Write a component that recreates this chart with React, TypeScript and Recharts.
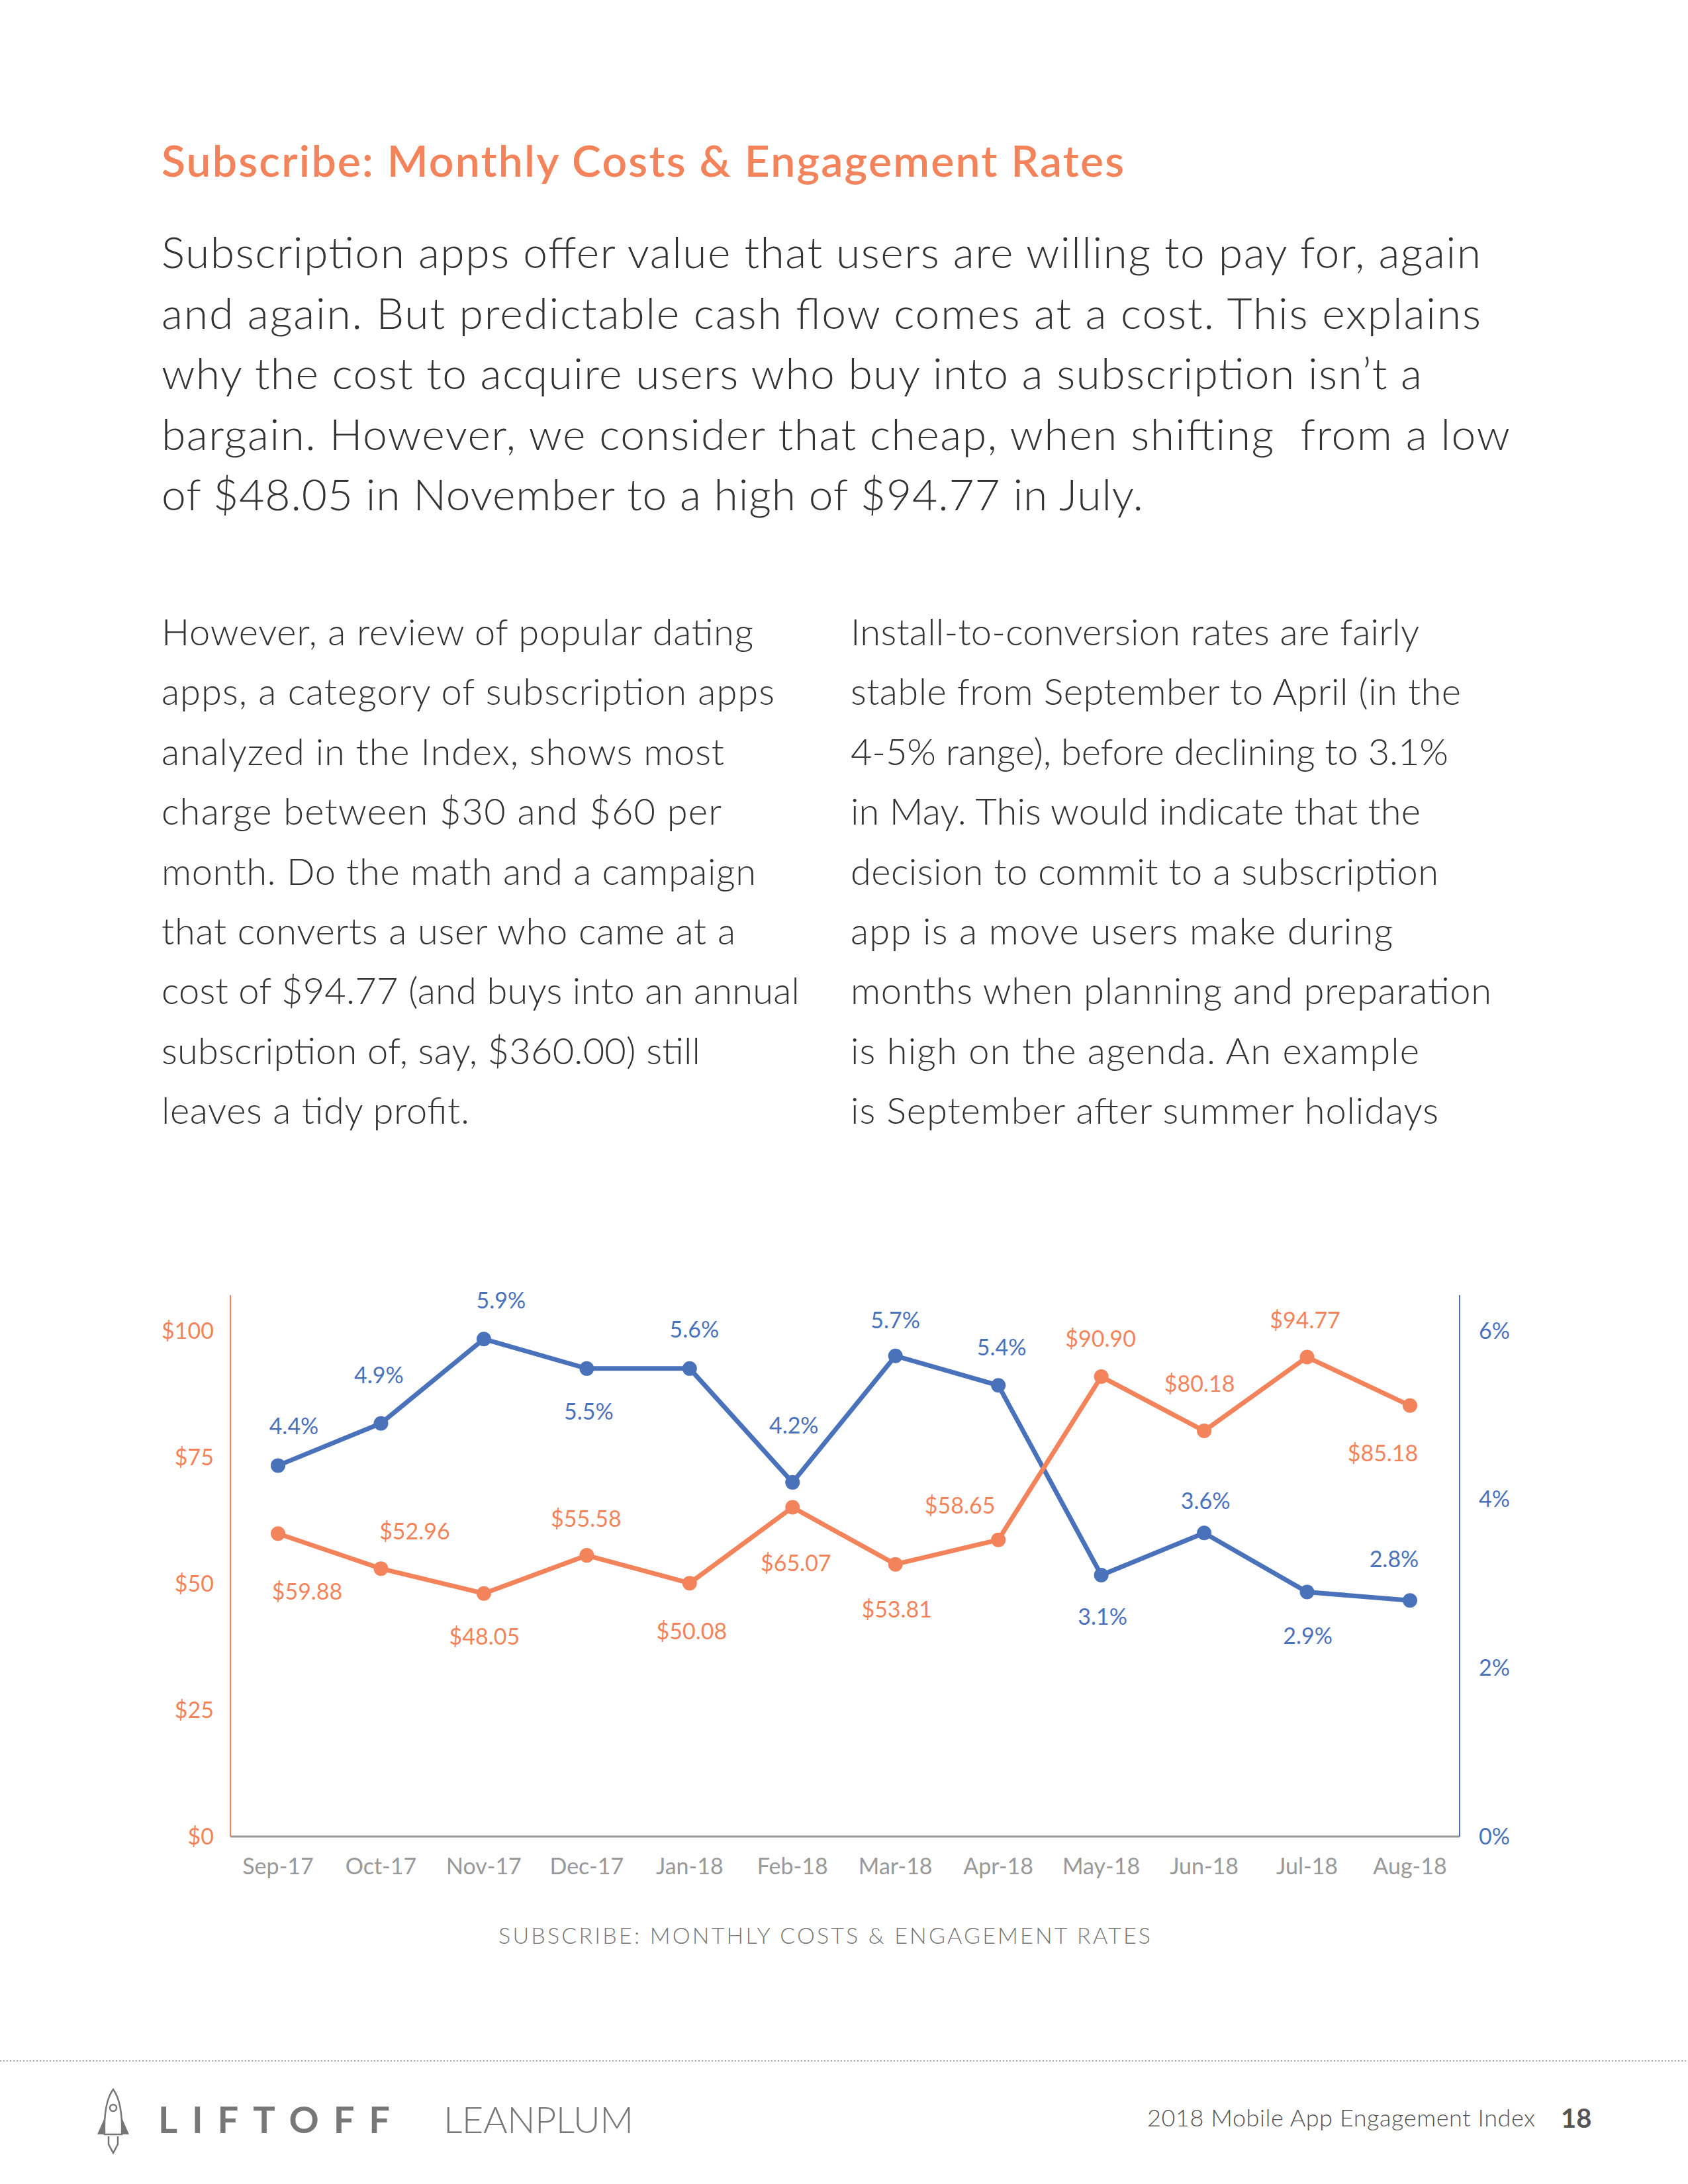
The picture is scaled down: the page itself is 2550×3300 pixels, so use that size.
import React from 'react';
import { LineChart, Line, XAxis, YAxis, LabelList } from 'recharts';

const months = ['Sep-17', 'Oct-17', 'Nov-17', 'Dec-17', 'Jan-18', 'Feb-18', 'Mar-18', 'Apr-18', 'May-18', 'Jun-18', 'Jul-18', 'Aug-18'];
const costValues = [59.88, 52.96, 48.05, 55.58, 50.08, 65.07, 53.81, 58.65, 90.9, 80.18, 94.77, 85.18];
const rateValues = [4.4, 4.9, 5.9, 5.55, 5.55, 4.2, 5.7, 5.35, 3.1, 3.6, 2.9, 2.8];
const rateLabels = ['4.4%', '4.9%', '5.9%', '5.5%', '5.6%', '4.2%', '5.7%', '5.4%', '3.1%', '3.6%', '2.9%', '2.8%'];
const costTicks = [0, 25, 50, 75, 100];
const rateTicks = [0, 2, 4, 6];

// label placement (offset of label centre from its point), styling only
const rateLabelOffsets = [[24, -61], [-3, -74], [26, -60], [3, 64], [7, -60], [2, -87], [0, -55], [5, -59], [2, 61], [2, -50], [1, 65], [-24, -64]];
const costLabelOffsets = [[44, 86], [51, -58], [1, 64], [-1, -57], [3, 71], [5, 83], [2, 67], [-58, -53], [-1, -59], [-7, -73], [-3, -57], [-41, 71]];

const data = months.map((m, i) => ({ month: m, cost: costValues[i], rate: rateValues[i] }));

const ORANGE = '#F2835A';
const BLUE = '#4A72BA';
const FONT = 'Lato, "Open Sans", sans-serif';
const LIGHT = '"Lato Light", Lato, "Open Sans", sans-serif';

const titleLine = 'Subscribe: Monthly Costs & Engagement Rates';
const introLines = [
  'Subscription apps offer value that users are willing to pay for, again',
  'and again. But predictable cash flow comes at a cost. This explains',
  'why the cost to acquire users who buy into a subscription isn\u2019t a',
  'bargain. However, we consider that cheap, when shifting  from a low',
  'of $48.05 in November to a high of $94.77 in July.',
];
const introWidths = [1993, 1993, 1904, 2037, 1483];
const leftLines = [
  'However, a review of popular dating',
  'apps, a category of subscription apps',
  'analyzed in the Index, shows most',
  'charge between $30 and $60 per',
  'month. Do the math and a campaign',
  'that converts a user who came at a',
  'cost of $94.77 (and buys into an annual',
  'subscription of, say, $360.00) still',
  'leaves a tidy profit.',
];
const leftWidths = [894, 926, 850, 846, 898, 867, 964, 814, 465];
const rightLines = [
  'Install-to-conversion rates are fairly',
  'stable from September to April (in the',
  '4-5% range), before declining to 3.1%',
  'in May. This would indicate that the',
  'decision to commit to a subscription',
  'app is a move users make during',
  'months when planning and preparation',
  'is high on the agenda. An example',
  'is September after summer holidays',
];
const rightWidths = [859, 922, 903, 861, 888, 819, 968, 859, 888];

const makeLabel = (color: string, offsets: number[][], labels: (i: number, v: any) => string) => (props: any) => {
  const { x, y, index, value } = props;
  const off = offsets[index] || [0, -50];
  return (
    <text
      x={x + off[0]}
      y={y + off[1]}
      fill={color}
      fontSize={34}
      fontFamily={FONT}
      textAnchor="middle"
      dominantBaseline="central"
    >
      {labels(index, value)}
    </text>
  );
};

function PageText() {
  return (
    <svg width={2550} height={3300} style={{ position: 'absolute', left: 0, top: 0 }}>
      <text x={244} y={267} fill={ORANGE} fontSize={66} fontWeight={600} fontFamily={FONT} textLength={1454} lengthAdjust="spacing">
        {titleLine}
      </text>
      {introLines.map((l, i) => (
        <text key={'i' + i} x={244} y={405 + i * 91.6} fill="#333" fontSize={66} fontWeight={300} fontFamily={LIGHT} textLength={introWidths[i]} lengthAdjust="spacing" style={{ whiteSpace: 'pre' }}>
          {l}
        </text>
      ))}
      {leftLines.map((l, i) => (
        <text key={'l' + i} x={244} y={975 + i * 90.4} fill="#333" fontSize={56} fontWeight={300} fontFamily={LIGHT} textLength={leftWidths[i]} lengthAdjust="spacing">
          {l}
        </text>
      ))}
      {rightLines.map((l, i) => (
        <text key={'r' + i} x={1285} y={975 + i * 90.4} fill="#333" fontSize={56} fontWeight={300} fontFamily={LIGHT} textLength={rightWidths[i]} lengthAdjust="spacing">
          {l}
        </text>
      ))}
      <text x={753} y={2937} fill="#777" fontSize={34} fontFamily={LIGHT} fontWeight={300} textLength={985} lengthAdjust="spacing">
        SUBSCRIBE: MONTHLY COSTS &amp; ENGAGEMENT RATES
      </text>
      <line x1={0} y1={3114} x2={2550} y2={3114} stroke="#aaa" strokeWidth={2} strokeDasharray="2 3" />
      {/* rocket */}
      <g fill="none" stroke="#777" strokeWidth={2.5}>
        <path d="M171 3157 C 160 3172, 157 3195, 158 3225 L 184 3225 C 185 3195, 182 3172, 171 3157 Z" />
        <circle cx={171} cy={3185} r={5} />
        <path d="M164 3228 L 164 3240 L 171 3253 L 178 3240 L 178 3228" />
      </g>
      <path d="M158 3200 L 147 3225 L 158 3225 Z M184 3200 L 195 3225 L 184 3225 Z" fill="#777" />
      <text x={239} y={3223} fill="#777" fontSize={56} fontWeight={700} fontFamily={FONT} textLength={350} lengthAdjust="spacing">
        LIFTOFF
      </text>
      <text x={670} y={3223} fill="#777" fontSize={56} fontWeight={300} fontFamily={LIGHT} textLength={287} lengthAdjust="spacing">
        LEANPLUM
      </text>
      <text x={1733} y={3213} fill="#555" fontSize={36} fontWeight={300} fontFamily={LIGHT} textLength={586} lengthAdjust="spacing">
        2018 Mobile App Engagement Index
      </text>
      <text x={2358} y={3215} fill="#555" fontSize={40} fontWeight={700} fontFamily={FONT}>
        18
      </text>
    </svg>
  );
}

export default function App() {
  return (
    <div style={{ position: 'absolute', left: 0, top: 0, width: 2550, height: 3300, background: '#fff', fontFamily: FONT }}>
      <PageText />
      <div style={{ position: 'absolute', left: 0, top: 1900 }}>
        <LineChart width={2550} height={1000} data={data} margin={{ top: 57, right: 245, bottom: 65, left: 248 }}>
          <XAxis
            dataKey="month"
            height={60}
            axisLine={{ stroke: '#999', strokeWidth: 3 }}
            tickLine={false}
            tickSize={0}
            tickMargin={33}
            padding={{ left: 72, right: 75 }}
            tick={{ fill: '#999', fontSize: 34, fontFamily: FONT }}
            interval={0}
          />
          <YAxis
            yAxisId="cost"
            width={100}
            domain={[0, 107]}
            ticks={costTicks}
            allowDataOverflow
            axisLine={{ stroke: ORANGE, strokeWidth: 2 }}
            tickLine={false}
            tickSize={0}
            tickMargin={25}
            tick={{ fill: ORANGE, fontSize: 34, fontFamily: FONT }}
            tickFormatter={(v: number) => '$' + v}
          />
          <YAxis
            yAxisId="rate"
            orientation="right"
            width={100}
            domain={[0, 6.42]}
            ticks={rateTicks}
            allowDataOverflow
            axisLine={{ stroke: BLUE, strokeWidth: 2 }}
            tickLine={false}
            tickSize={0}
            tickMargin={29}
            tick={{ fill: BLUE, fontSize: 34, fontFamily: FONT, textAnchor: 'start' }}
            tickFormatter={(v: number) => v + '%'}
          />
          <Line
            yAxisId="rate"
            dataKey="rate"
            stroke={BLUE}
            strokeWidth={7}
            dot={{ r: 11, fill: BLUE, stroke: BLUE, strokeWidth: 0 }}
            isAnimationActive={false}
          >
            <LabelList dataKey="rate" content={makeLabel(BLUE, rateLabelOffsets, (i) => rateLabels[i])} />
          </Line>
          <Line
            yAxisId="cost"
            dataKey="cost"
            stroke={ORANGE}
            strokeWidth={7}
            dot={{ r: 11, fill: ORANGE, stroke: ORANGE, strokeWidth: 0 }}
            isAnimationActive={false}
          >
            <LabelList dataKey="cost" content={makeLabel(ORANGE, costLabelOffsets, (_i, v) => '$' + Number(v).toFixed(2))} />
          </Line>
        </LineChart>
      </div>
    </div>
  );
}
